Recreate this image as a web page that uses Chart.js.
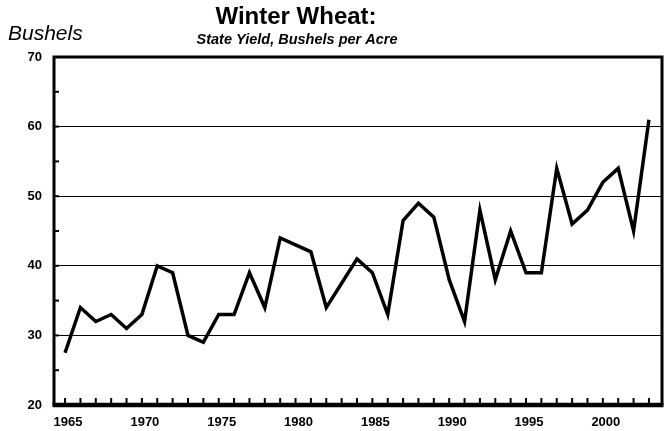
<!DOCTYPE html>
<html>
<head>
<meta charset="utf-8">
<script src="https://cdn.jsdelivr.net/npm/chart.js@4/dist/chart.umd.min.js"></script>
<style>
  html, body { margin: 0; padding: 0; background: #fff; }
  #wrap { width: 668px; height: 431px; }
</style>
</head>
<body>
<div id="wrap"><canvas id="c" width="668" height="431"></canvas></div>
<script>
// ---- Data ----
const years = [1965,1966,1967,1968,1969,1970,1971,1972,1973,1974,1975,1976,1977,1978,1979,1980,1981,1982,1983,1984,1985,1986,1987,1988,1989,1990,1991,1992,1993,1994,1995,1996,1997,1998,1999,2000,2001,2002,2003];
const yields = [27.5,34,32,33,31,33,40,39,30,29,33,33,39,34,44,43,42,34,37.5,41,39,33,46.5,49,47,38,32,48,38,45,39,39,54,46,48,52,54,45,61];
const xLabelYears = [1965,1970,1975,1980,1985,1990,1995,2000];
const yTickValues = [20,25,30,35,40,45,50,55,60,65,70];
const yLabelValues = [20,30,40,50,60,70];
const yGridValues = [30,40,50,60];

const titleText = 'Winter Wheat:';
const subtitleText = 'State Yield, Bushels per Acre';
const unitText = 'Bushels';

const FONT = '"Liberation Sans", Arial, Helvetica, sans-serif';

const framePlugin = {
  id: 'frame',
  afterDatasetsDraw(chart) {
    const ctx = chart.ctx;
    const a = chart.chartArea;
    const xs = chart.scales.x, ys = chart.scales.y;
    ctx.save();
    ctx.strokeStyle = '#000';
    ctx.lineCap = 'butt';
    ctx.lineWidth = 2;
    ys.ticks.forEach(t => {
      const py = ys.getPixelForValue(t.value);
      ctx.beginPath();
      ctx.moveTo(a.left, py);
      ctx.lineTo(a.left + 5, py);
      ctx.stroke();
    });
    xs.ticks.forEach(t => {
      const px = xs.getPixelForValue(t.value);
      ctx.beginPath();
      ctx.moveTo(px, a.bottom);
      ctx.lineTo(px, a.bottom - 7);
      ctx.stroke();
    });
    ctx.lineWidth = 3;
    ctx.beginPath();
    ctx.moveTo(a.left, a.bottom);
    ctx.lineTo(a.left, a.top);
    ctx.lineTo(a.right, a.top);
    ctx.lineTo(a.right, a.bottom);
    ctx.stroke();
    ctx.lineWidth = 4.5;
    ctx.beginPath();
    ctx.moveTo(a.left - 1.5, a.bottom);
    ctx.lineTo(a.right + 1.5, a.bottom);
    ctx.stroke();
    ctx.restore();
  },
  afterDraw(chart) {
    const ctx = chart.ctx;
    ctx.save();
    ctx.fillStyle = '#000';
    ctx.textAlign = 'center';
    ctx.textBaseline = 'alphabetic';
    ctx.font = 'bold 24px ' + FONT;
    ctx.fillText(titleText, 296, 24);
    ctx.font = 'italic bold 14.5px ' + FONT;
    ctx.fillText(subtitleText, 297, 44);
    ctx.textAlign = 'left';
    ctx.font = 'italic 21px ' + FONT;
    ctx.fillText(unitText, 8, 40);
    ctx.restore();
  }
};

new Chart(document.getElementById('c'), {
  type: 'line',
  data: {
    datasets: [{
      data: years.map((y, i) => ({ x: y, y: yields[i] })),
      borderColor: '#000',
      borderWidth: 3.5,
      borderJoinStyle: 'miter',
      pointRadius: 0,
      tension: 0,
      fill: false
    }]
  },
  options: {
    responsive: false,
    animation: false,
    devicePixelRatio: 1,
    layout: { padding: { top: 57, right: 6, left: 0, bottom: 0 } },
    plugins: { legend: { display: false }, tooltip: { enabled: false }, title: { display: false } },
    scales: {
      x: {
        type: 'linear',
        min: 1964.28,
        max: 2003.85,
        afterBuildTicks: s => { s.ticks = years.map(v => ({ value: v })); },
        afterFit: s => { s.height = 26; },
        grid: { display: false, drawTicks: false },
        border: { display: false },
        ticks: {
          autoSkip: false,
          maxRotation: 0,
          padding: 10,
          labelOffset: 3,
          color: '#000',
          font: { family: FONT, size: 13, weight: 'bold' },
          callback: v => xLabelYears.includes(v) ? String(v) : ''
        }
      },
      y: {
        type: 'linear',
        min: 20,
        max: 70,
        afterBuildTicks: s => { s.ticks = yTickValues.map(v => ({ value: v })); },
        afterFit: s => { s.width = 54; },
        grid: {
          drawTicks: false,
          lineWidth: 1,
          color: c => yGridValues.includes(c.tick && c.tick.value) ? '#000' : 'rgba(0,0,0,0)'
        },
        border: { display: false },
        ticks: {
          autoSkip: false,
          padding: 12,
          color: '#000',
          font: { family: FONT, size: 13, weight: 'bold' },
          callback: v => yLabelValues.includes(v) ? String(v) : ''
        }
      }
    }
  },
  plugins: [framePlugin]
});
</script>
</body>
</html>
